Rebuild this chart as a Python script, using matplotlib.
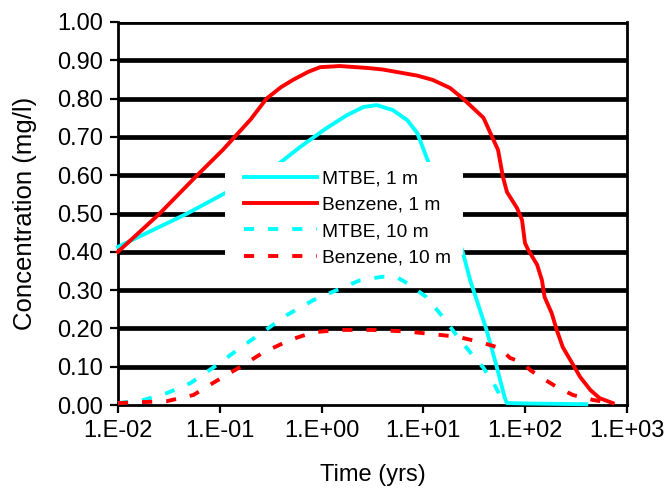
import matplotlib
matplotlib.use("Agg")
import matplotlib.pyplot as plt
from matplotlib.patches import Rectangle

plt.rcParams['font.family'] = ['Liberation Sans', 'DejaVu Sans']

# ---- data (time in years, concentration in mg/l) ----
mtbe1_t = [0.01, 0.0479, 0.112, 0.389, 0.617, 1.12, 1.78, 2.57, 3.47, 5.01, 6.92,
           8.71, 11.2, 15.8, 24.5, 28.8, 41.7, 52.5, 63.1, 66.1, 100, 398]
mtbe1_c = [0.413, 0.50, 0.553, 0.632, 0.674, 0.723, 0.757, 0.778, 0.783, 0.77, 0.744,
           0.71, 0.634, 0.55, 0.397, 0.326, 0.196, 0.10, 0.018, 0.005, 0.004, 0.002]

benz1_t = [0.01, 0.0257, 0.0575, 0.107, 0.200, 0.288, 0.400, 0.525, 0.740, 0.966, 1.51,
           2.82, 3.98, 8.71, 12.3, 18.2, 24.5, 38.9, 54.1, 60.5, 66.2, 83.2, 93.1, 99.5,
           107, 131, 146, 155, 182, 204, 234, 288, 347, 437, 537, 724]
benz1_c = [0.40, 0.50, 0.595, 0.666, 0.745, 0.80, 0.830, 0.849, 0.870, 0.882, 0.885,
           0.88, 0.876, 0.86, 0.849, 0.828, 0.80, 0.75, 0.666, 0.595, 0.556, 0.514,
           0.483, 0.423, 0.405, 0.366, 0.326, 0.282, 0.24, 0.196, 0.151, 0.11, 0.073,
           0.039, 0.018, 0.005]

mtbe10_t = [0.01, 0.0178, 0.0302, 0.0513, 0.0933, 0.158, 0.263, 0.457, 0.832, 1.41,
            2.40, 3.98, 5.62, 6.92, 10.7, 15.5, 22.9, 28.8, 38.9, 49.0, 56.2, 60.3]
mtbe10_c = [0.005, 0.013, 0.031, 0.057, 0.104, 0.149, 0.19, 0.235, 0.274, 0.30,
            0.326, 0.335, 0.332, 0.318, 0.282, 0.23, 0.17, 0.138, 0.097, 0.057, 0.026, 0.005]

benz10_t = [0.01, 0.0191, 0.0302, 0.0550, 0.0851, 0.158, 0.263, 0.490, 0.832, 1.51,
            3.16, 6.92, 12.3, 21.9, 36.3, 56.2, 70.8, 95.5, 112, 148, 204, 295, 468, 724]
benz10_c = [0.005, 0.008, 0.010, 0.026, 0.057, 0.099, 0.136, 0.17, 0.19, 0.196,
            0.196, 0.192, 0.185, 0.178, 0.164, 0.149, 0.123, 0.11, 0.091, 0.07, 0.047,
            0.026, 0.013, 0.005]

labels = ['MTBE, 1 m', 'Benzene, 1 m', 'MTBE, 10 m', 'Benzene, 10 m']
cyan = '#00FFFF'
red = '#FF0000'

yticks = [0.0, 0.1, 0.2, 0.3, 0.4, 0.5, 0.6, 0.7, 0.8, 0.9, 1.0]
xticks = [1e-2, 1e-1, 1e0, 1e1, 1e2, 1e3]
xticklabels = ['1.E-02', '1.E-01', '1.E+00', '1.E+01', '1.E+02', '1.E+03']

fig = plt.figure(figsize=(6.69, 4.88), dpi=100)
ax = fig.add_axes([118/669, 1 - 405/488, 509/669, 383/488])

# thick black gridlines
for yv in yticks[1:]:
    ax.axhline(yv, color='black', lw=3.4, zorder=1, solid_capstyle='butt')

lw = 2.8
dash = (2.6, 3.6)
h1, = ax.plot(mtbe1_t, mtbe1_c, color=cyan, lw=lw, zorder=3, clip_on=False)
h2, = ax.plot(benz1_t, benz1_c, color=red, lw=lw, zorder=3, clip_on=False)
h3, = ax.plot(mtbe10_t, mtbe10_c, color=cyan, lw=lw, zorder=3, clip_on=False,
              linestyle=(0, dash), dash_capstyle='butt')
h4, = ax.plot(benz10_t, benz10_c, color=red, lw=lw, zorder=3, clip_on=False,
              linestyle=(0, dash), dash_capstyle='butt')

ax.set_xscale('log')
ax.set_xlim(1e-2, 1e3)
ax.set_ylim(0, 1.0)
ax.set_xticks(xticks)
ax.set_xticklabels(xticklabels)
ax.xaxis.set_minor_locator(matplotlib.ticker.NullLocator())
ax.set_yticks(yticks)
ax.set_yticklabels([f'{v:.2f}' for v in yticks])

for s in ['left', 'right', 'bottom']:
    ax.spines[s].set_linewidth(2.0)
    ax.spines[s].set_color('black')
ax.spines['top'].set_visible(False)

ax.tick_params(axis='both', direction='out', length=5.5, width=1.6,
               labelsize=17, colors='black')
ax.tick_params(axis='y', pad=5)
ax.tick_params(axis='x', pad=5)

ax.set_xlabel('Time (yrs)', fontsize=17, labelpad=16)
ax.set_ylabel('Concentration (mg/l)', fontsize=18.5, labelpad=15)

# legend background
ax.add_patch(Rectangle((0.21, 0.392), 0.468, 0.243, transform=ax.transAxes,
                       facecolor='white', edgecolor='none', zorder=4))
leg = ax.legend([h1, h2, h3, h4], labels, loc='upper left',
                bbox_to_anchor=(0.2475, 0.614), frameon=False, fontsize=13.8,
                borderpad=0, borderaxespad=0, handlelength=3.8,
                handletextpad=0.26, labelspacing=0.47)
leg.set_zorder(5)

fig.savefig('out.png', dpi=100)
